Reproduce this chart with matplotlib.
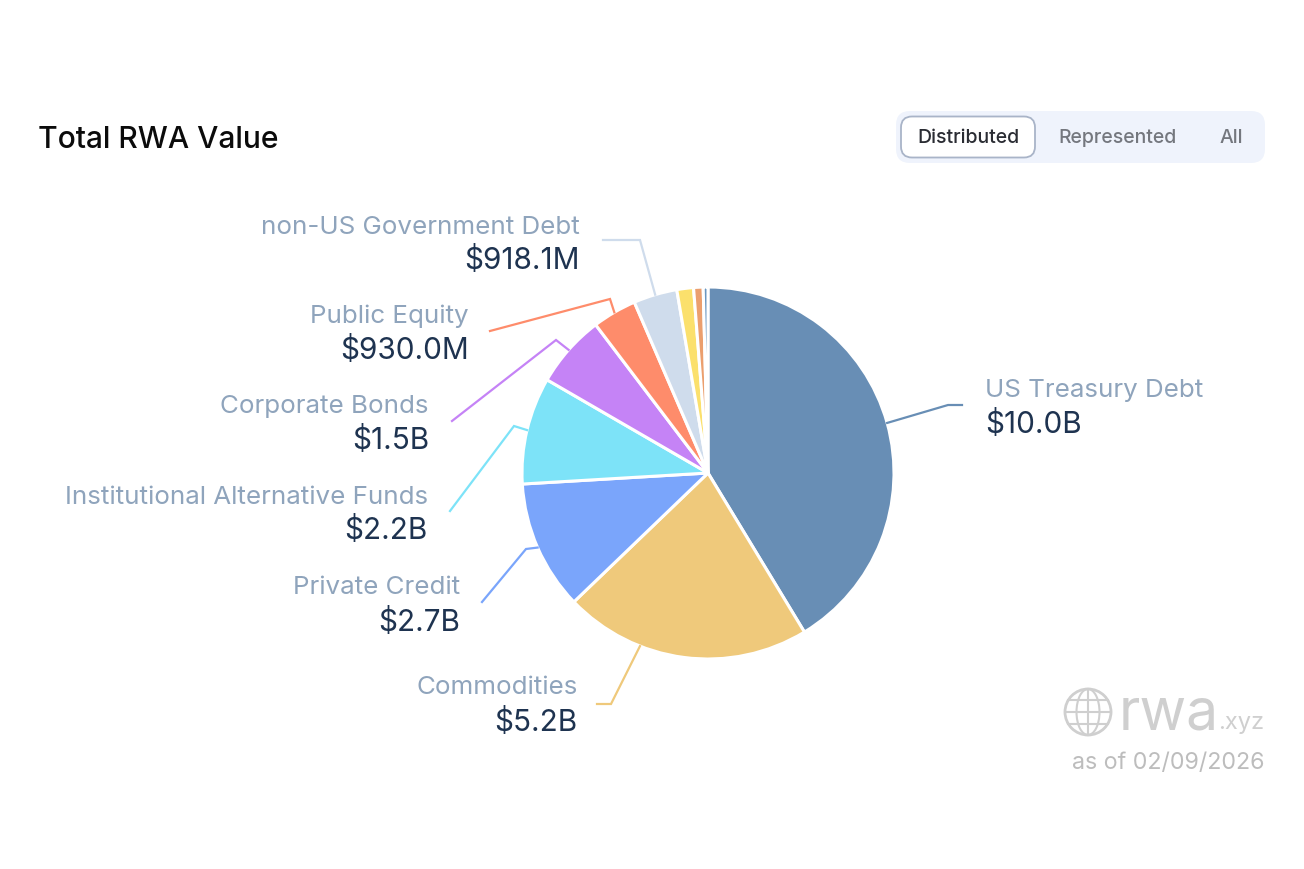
import numpy as np
import matplotlib
matplotlib.use("Agg")
import matplotlib.pyplot as plt
from matplotlib.patches import FancyBboxPatch, Circle, Ellipse

W, H = 1304, 869
plt.rcParams['font.family'] = ['Inter', 'DejaVu Sans']

# Data
categories = ["US Treasury Debt", "Commodities", "Private Credit",
              "Institutional Alternative Funds", "Corporate Bonds",
              "Public Equity", "non-US Government Debt", "Other A", "Other B", "Other C"]
values = [10.0, 5.2, 2.72, 2.25, 1.53, 0.93, 0.918, 0.35, 0.2, 0.1]
value_labels = ["$10.0B", "$5.2B", "$2.7B", "$2.2B", "$1.5B", "$930.0M", "$918.1M", None, None, None]
colors = ["#688eb5", "#efc97b", "#7aa5fb", "#7de3f8", "#c583f6",
          "#fe8c6b", "#cfdcec", "#fbe06c", "#eb9f6e", "#6a97c0"]

# Layout (pixels from the top left of the image)
cx, cy, radius = 708, 473, 186
leader_paths = [
    [(948, 405), (962, 405)],
    [(611, 704), (597, 704)],
    [(526, 549), (482, 602)],
    [(514, 426), (450, 511)],
    [(556, 340), (452, 421)],
    [(610, 299), (490, 331)],
    [(640, 240), (603, 240)],
]
leader_shift = [0, 14, 0, 0, 0, 0, 0]
label_pos = [(985, 390, 424, 'left'), (578, 688, 722, 'right'), (460, 588, 622, 'right'),
             (428, 497, 531, 'right'), (429, 407, 441, 'right'), (469, 316, 350, 'right'),
             (580, 227, 261, 'right')]

fig = plt.figure(figsize=(W / 100, H / 100), dpi=100, facecolor='white')
ax = fig.add_axes([0, 0, 1, 1])

def Y(y):
    return H - y

wedges, _ = ax.pie(values, colors=colors, center=(cx, Y(cy)), radius=radius,
                   startangle=90, counterclock=False, frame=True,
                   wedgeprops=dict(edgecolor='white', linewidth=2.2, joinstyle='round'))
ax.set_xlim(0, W)
ax.set_ylim(0, H)
ax.set_aspect('equal')
ax.axis('off')

GRAY = "#8fa4bc"
DARK = "#1e3350"
for i, (path, lab) in enumerate(zip(leader_paths, label_pos)):
    w = wedges[i]
    mid = np.deg2rad((w.theta1 + w.theta2) / 2 - leader_shift[i])
    start = (cx + radius * np.cos(mid), Y(cy) + radius * np.sin(mid))
    xs = [start[0]] + [p[0] for p in path]
    ys = [start[1]] + [Y(p[1]) for p in path]
    ax.plot(xs, ys, color=colors[i], lw=1.6, solid_joinstyle='miter', zorder=1)
    x, y1, y2, ha = lab
    ax.text(x, Y(y1), categories[i], color=GRAY, fontsize=18.7, ha=ha, va='center')
    ax.text(x, Y(y2), value_labels[i], color=DARK, fontsize=21.4, ha=ha, va='center')

# Title
ax.text(38, Y(140), "Total RWA Value", color="#0b0b0b", fontsize=21.6, weight=500, ha='left', va='center')

# Toggle
ax.add_patch(FancyBboxPatch((896, Y(163)), 369, 52, boxstyle="round,pad=0,rounding_size=14",
                            fc="#eff3fc", ec='none'))
ax.add_patch(FancyBboxPatch((901, Y(157.5)), 134, 41, boxstyle="round,pad=0,rounding_size=11",
                            fc="white", ec="#a9b4c8", lw=1.3))
ax.text(968, Y(138), "Distributed", color="#2a2c33", fontsize=14, weight=500, ha='center', va='center')
ax.text(1118, Y(138), "Represented", color="#74777e", fontsize=14, weight=500, ha='center', va='center')
ax.text(1231, Y(138), "All", color="#74777e", fontsize=14, weight=500, ha='center', va='center')

# Watermark
LOGO = "#cfcfcf"
gx, gy, gr = 1088, 712, 23
ax.add_patch(Circle((gx, Y(gy)), gr, fc='none', ec=LOGO, lw=2))
ax.add_patch(Ellipse((gx, Y(gy)), gr, 2 * gr, fc='none', ec=LOGO, lw=1.5))
ax.plot([gx, gx], [Y(gy - gr), Y(gy + gr)], color=LOGO, lw=1.5)
for off in (-12, 0, 12):
    half = np.sqrt(gr ** 2 - off ** 2)
    ax.plot([gx - half, gx + half], [Y(gy + off)] * 2, color=LOGO, lw=1.5)
ax.text(1119, Y(729), "rwa", color=LOGO, fontsize=41, ha='left', va='baseline')
ax.text(1264, Y(729), ".xyz", color=LOGO, fontsize=17, ha='right', va='baseline')
ax.text(1264, Y(763), "as of 02/09/2026", color="#bdbdbd", fontsize=16.7, ha='right', va='center')

fig.savefig("out.png", dpi=100)
